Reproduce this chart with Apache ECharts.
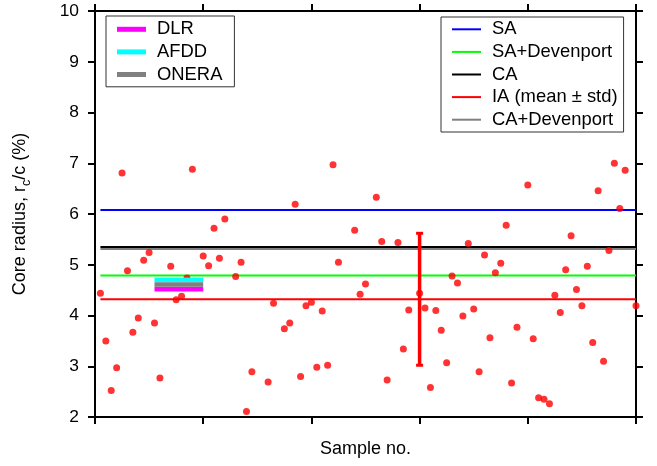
<!DOCTYPE html>
<html>
<head>
<meta charset="utf-8">
<script src="https://cdn.jsdelivr.net/npm/echarts@6/dist/echarts.min.js"></script>
<style>
  html, body { margin: 0; padding: 0; background: #fff; }
  #chart { width: 657px; height: 466px; }
</style>
</head>
<body>
<div id="chart"></div>
<script>
// Individual-approach (IA) core radius for each sample
const sampleNo = [1, 2, 3, 4, 5, 6, 7, 8, 9, 10, 11, 12, 14, 15, 16, 17, 18, 20, 21, 22,
  23, 24, 26, 27, 28, 29, 32, 33, 35, 36, 37, 38, 39, 40, 41, 42, 43, 44, 45, 48,
  49, 50, 52, 53, 54, 56, 57, 58, 60, 61, 62, 63, 64, 65, 66, 67, 68, 69, 70, 71,
  72, 73, 74, 75, 76, 77, 78, 80, 81, 82, 83, 84, 85, 86, 87, 88, 89, 90, 91, 92,
  93, 94, 95, 96, 97, 98, 100];
const coreRadius = [4.44, 3.50, 2.52, 2.97, 6.81, 4.88, 3.67, 3.95, 5.09, 5.24, 3.85, 2.77, 4.97, 4.31, 4.38, 4.74, 6.88, 5.17, 4.98, 5.72,
  5.13, 5.90, 4.77, 5.05, 2.11, 2.89, 2.69, 4.24, 3.74, 3.85, 6.19, 2.80, 4.19, 4.26, 2.98, 4.09, 3.02, 6.97, 5.05, 5.68,
  4.42, 4.62, 6.33, 5.46, 2.73, 5.44, 3.34, 4.11, 4.44, 4.15, 2.58, 4.10, 3.71, 3.07, 4.78, 4.64, 3.99, 5.42, 4.13, 2.89,
  5.19, 3.56, 4.84, 5.03, 5.78, 2.67, 3.77, 6.57, 3.54, 2.38, 2.35, 2.26, 4.40, 4.06, 4.90, 5.57, 4.51, 4.19, 4.97, 3.47,
  6.46, 3.10, 5.28, 7.00, 6.11, 6.86, 4.19];

// Model-approach levels (constant across samples)
const modelNames = ['SA', 'SA+Devenport', 'CA', 'IA (mean \u00b1 std)', 'CA+Devenport'];
const modelValues = [6.08, 4.79, 5.35, 4.32, 5.31];
const modelColors = ['#0000ff', '#00ff00', '#000000', '#ff0000', '#808080'];
const modelSpan = [1, 100];

// IA spread shown as an error bar
const iaBarAt = 60;
const iaMean = 4.32;
const iaStd = 1.30;

// Reference values from experiments
const expNames = ['DLR', 'AFDD', 'ONERA'];
const expValues = [4.52, 4.70, 4.61];
const expColors = ['#ff00ff', '#00ffff', '#808080'];
const expSpan = [11, 20];

// Axis ticks
const xTicks = { min: 0, max: 100, step: 20 };
const yTicks = { min: 2, max: 10, step: 1 };

const FONT = '"Liberation Sans", Arial, Helvetica, sans-serif';

const chart = echarts.init(document.getElementById('chart'), null, { renderer: 'canvas' });

const axisLineStyle = { color: '#000', width: 2 };
const tickStyle = { show: true, length: 7, lineStyle: { color: '#000', width: 2 } };

const series = [];

modelNames.forEach((name, i) => {
  series.push({
    name: name,
    type: 'line',
    color: modelColors[i],
    showSymbol: false,
    symbol: 'none',
    silent: true,
    z: 2,
    lineStyle: { width: 2, color: modelColors[i] },
    data: [[modelSpan[0], modelValues[i]], [modelSpan[1], modelValues[i]]]
  });
});

series.push({
  name: 'IA samples',
  type: 'scatter',
  symbol: 'circle',
  symbolSize: 7,
  z: 4,
  itemStyle: { color: '#ff0000' },
  data: sampleNo.map((s, i) => [s, coreRadius[i]])
});

series.push({
  name: 'IA spread',
  type: 'custom',
  z: 3,
  encode: { x: 0, y: 1 },
  data: [[iaBarAt, iaMean, iaStd]],
  renderItem: function (params, api) {
    const x = api.value(0), m = api.value(1), s = api.value(2);
    const top = api.coord([x, m + s]);
    const bot = api.coord([x, m - s]);
    const capW = 7, capH = 3;
    return {
      type: 'group',
      children: [
        { type: 'line', shape: { x1: top[0], y1: top[1], x2: bot[0], y2: bot[1] },
          style: { stroke: '#ff0000', lineWidth: 3.5 } },
        { type: 'rect', shape: { x: top[0] - capW / 2, y: top[1] - capH / 2, width: capW, height: capH },
          style: { fill: '#ff0000' } },
        { type: 'rect', shape: { x: bot[0] - capW / 2, y: bot[1] - capH / 2, width: capW, height: capH },
          style: { fill: '#ff0000' } }
      ]
    };
  }
});

expNames.forEach((name, i) => {
  series.push({
    name: name,
    type: 'line',
    color: expColors[i],
    showSymbol: false,
    symbol: 'none',
    silent: true,
    z: 6,
    lineStyle: { width: 4.6, color: expColors[i], cap: 'butt' },
    data: [[expSpan[0], expValues[i]], [expSpan[1], expValues[i]]]
  });
});

const legendCommon = {
  orient: 'vertical',
  icon: 'rect',
  itemWidth: 29,
  itemGap: 0,
  selectedMode: false,
  borderColor: '#333',
  borderWidth: 1,
  borderRadius: 0,
  backgroundColor: '#fff',
  textStyle: { fontFamily: FONT, fontSize: 18.4, color: '#000', lineHeight: 22.6, padding: [0, 0, 0, 6] }
};

const option = {
  animation: false,
  backgroundColor: '#fff',
  textStyle: { fontFamily: FONT },
  grid: { left: 95, right: 21, top: 11, bottom: 49, containLabel: false },
  legend: [
    Object.assign({}, legendCommon, {
      left: 106, top: 16,
      itemHeight: 5,
      padding: [2, 12, 1, 11],
      data: expNames
    }),
    Object.assign({}, legendCommon, {
      left: 441, top: 17,
      itemHeight: 2,
      padding: [1, 6, 1, 11],
      data: modelNames
    })
  ],
  xAxis: [
    {
      type: 'value', position: 'bottom',
      min: xTicks.min, max: xTicks.max, interval: xTicks.step,
      axisLine: { show: true, lineStyle: axisLineStyle },
      axisTick: tickStyle,
      axisLabel: { show: false },
      splitLine: { show: false },
      name: 'Sample no.',
      nameLocation: 'middle',
      nameGap: 23,
      nameTextStyle: { fontFamily: FONT, fontSize: 18, color: '#000' }
    },
    {
      type: 'value', position: 'top',
      min: xTicks.min, max: xTicks.max, interval: xTicks.step,
      axisLine: { show: true, onZero: false, lineStyle: axisLineStyle },
      axisTick: tickStyle,
      axisLabel: { show: false },
      splitLine: { show: false }
    }
  ],
  yAxis: [
    {
      type: 'value', position: 'left',
      min: yTicks.min, max: yTicks.max, interval: yTicks.step,
      axisLine: { show: true, onZero: false, lineStyle: axisLineStyle },
      axisTick: tickStyle,
      axisLabel: { fontFamily: FONT, fontSize: 17.4, color: '#000', margin: 16 },
      splitLine: { show: false },
      name: '{a|Core radius, r}{s|c}{a|/c (%)}',
      nameLocation: 'middle',
      nameRotate: 90,
      nameGap: 66,
      nameTextStyle: {
        fontFamily: FONT, color: '#000',
        rich: {
          a: { fontFamily: FONT, fontSize: 18, color: '#000', lineHeight: 20, verticalAlign: 'bottom' },
          s: { fontFamily: FONT, fontSize: 12.5, color: '#000', lineHeight: 20, verticalAlign: 'bottom', padding: [0, 0, -4, 0] }
        }
      }
    },
    {
      type: 'value', position: 'right',
      min: yTicks.min, max: yTicks.max, interval: yTicks.step,
      axisLine: { show: true, onZero: false, lineStyle: axisLineStyle },
      axisTick: tickStyle,
      axisLabel: { show: false },
      splitLine: { show: false }
    }
  ],
  series: series
};

chart.setOption(option);
</script>
</body>
</html>
